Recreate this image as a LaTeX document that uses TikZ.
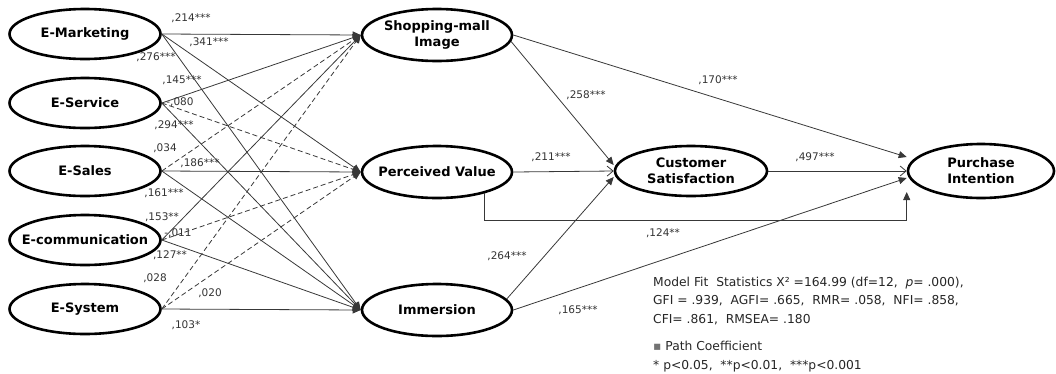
\documentclass[tikz,border=0pt]{standalone}
\usepackage{fontspec}
\setmainfont{DejaVu Sans}
\usetikzlibrary{shapes.geometric,arrows.meta,calc}
\begin{document}
\begin{tikzpicture}[x=1pt,y=-1pt,
  lat/.style={ellipse,draw=black,line width=2.6pt,inner xsep=-12pt,inner ysep=0pt,minimum width=151pt,minimum height=50pt,
    font=\fontsize{13}{16}\selectfont\bfseries,align=center},
  conn/.style={draw=black!78,line width=0.8pt,-{Triangle[length=8pt,width=7pt]}},
  ns/.style={conn,dash pattern=on 5pt off 3pt},
  openarr/.style={draw=black!78,line width=0.8pt,-{Straight Barb[length=6pt,width=10pt]}},
  coef/.style={font=\fontsize{10.5}{12}\selectfont,text=black!80,inner sep=0pt},
  fitnote/.style={font=\fontsize{12.3}{18.5}\selectfont,text=black!85,anchor=base west,inner sep=0pt,align=left}]
\useasboundingbox (0,0) rectangle (1056,373);

% exogenous
\node[lat] (mk) at (85,34) {E-Marketing};
\node[lat] (sv) at (85,103) {E-Service};
\node[lat] (sl) at (85,171) {E-Sales};
\node[lat] (cm) at (85,240) {E-communication};
\node[lat] (sy) at (85,309) {E-System};

% mediators
\node[lat,minimum width=150pt,minimum height=52pt] (sh) at (437,35) {Shopping-mall\\Image};
\node[lat,minimum width=150pt,minimum height=52pt] (pv) at (437,172) {Perceived Value};
\node[lat,minimum width=150pt,minimum height=52pt] (im) at (437,310) {Immersion};
\node[lat,minimum width=152pt,minimum height=50pt] (cs) at (691,171) {Customer\\Satisfaction};
\node[lat,minimum width=146pt,minimum height=54pt] (pi) at (981,171) {Purchase\\Intention};

% left paths
\draw[conn] (mk.east) -- (sh.west);
\draw[conn] (mk.east) -- (pv.west);
\draw[conn] (mk.east) -- (im.west);
\draw[conn] (sv.east) -- (sh.west);
\draw[ns]   (sv.east) -- (pv.west);
\draw[conn] (sv.east) -- (im.west);
\draw[ns]   (sl.east) -- (sh.west);
\draw[conn] (sl.east) -- (pv.west);
\draw[conn] (sl.east) -- (im.west);
\draw[conn] (cm.east) -- (sh.west);
\draw[ns]   (cm.east) -- (pv.west);
\draw[conn] (cm.east) -- (im.west);
\draw[ns]   (sy.east) -- (sh.west);
\draw[ns]   (sy.east) -- (pv.west);
\draw[conn] (sy.east) -- (im.west);

% right paths
\draw[conn] (sh.east) -- ([yshift=14pt]pi.west);
\draw[conn] (sh.-5) -- ([yshift=6pt]cs.west);
\draw[openarr] (pv.east) -- (cs.west);
\draw[conn] (im.9) -- ([yshift=-6pt]cs.west);
\draw[openarr] (cs.east) -- (pi.west);
\draw[conn] (im.east) -- ([yshift=-7pt]pi.west);
\draw[conn] (pv.-24) -- ++(0,27) -| ([yshift=-21pt]pi.west);

% coefficients left
\node[coef] (c1) at (191,18) {,214***};
\node[coef] (c2) at (209,42) {,341***};
\node[coef] (c3) at (156,57) {,276***};
\node[coef] (c4) at (182,80) {,145***};
\node[coef] (c5) at (180,102) {-,080};
\node[coef] (c6) at (174,125) {,294***};
\node[coef] (c7) at (165,148) {,034};
\node[coef] (c8) at (200,163) {,186***};
\node[coef] (c9) at (164,193) {,161***};
\node[coef] (c10) at (162,217) {,153**};
\node[coef] (c11) at (178,233) {-,011};
\node[coef] (c12) at (170,255) {,127**};
\node[coef] (c13) at (155,278) {,028};
\node[coef] (c14) at (210,293) {,020};
\node[coef] (c15) at (186,325) {,103*};

% coefficients right
\node[coef] (r1) at (586,95) {,258***};
\node[coef] (r2) at (718,80) {,170***};
\node[coef] (r3) at (551,157) {,211***};
\node[coef] (r4) at (815,157) {,497***};
\node[coef] (r5) at (663,233) {,124**};
\node[coef] (r6) at (507,256) {,264***};
\node[coef] (r7) at (578,310) {,165***};

% notes
\node[fitnote] (fit) at (653,323) {Model Fit~~Statistics X² =164.99 (df=12,~~\textit{p}= .000),\\
GFI = .939,~~AGFI= .665,~~RMR= .058,~~NFI= .858,\\
CFI= .861,~~RMSEA= .180};
\node[fitnote] (pc) at (653,369) {{\color{black!55}▪} Path Coefficient\\
* p<0.05,~~**p<0.01,~~***p<0.001};
\end{tikzpicture}
\end{document}
